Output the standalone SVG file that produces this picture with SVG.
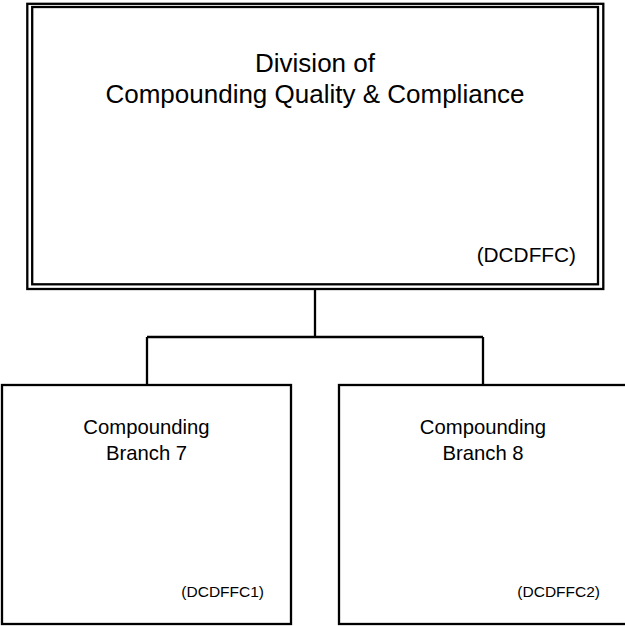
<svg xmlns="http://www.w3.org/2000/svg" width="625" height="626" viewBox="0 0 625 626">
<style>
  .box { fill: #fff; stroke: #000; stroke-width: 2.3; }
  .line { fill: none; stroke: #000; stroke-width: 2.3; }
  text { font-family: "Liberation Sans", Arial, sans-serif; fill: #000; }
  .t1 { font-size: 26px; text-anchor: middle; }
  .t2 { font-size: 20.3px; text-anchor: middle; }
  .code1 { font-size: 20.8px; text-anchor: end; }
  .code2 { font-size: 15.5px; text-anchor: end; }
</style>
<rect width="625" height="626" fill="#fff"/>
<g id="connectors">
  <path class="line" d="M315 289 V337 M147 337 H483 M147 337 V385 M483 337 V385"/>
</g>
<g id="division">
  <rect class="box" x="27.3" y="3.8" width="576" height="285.2"/>
  <rect class="line" x="32.2" y="7" width="565.8" height="277.3"/>
  <text class="t1" x="315" y="72">Division of</text>
  <text class="t1" x="315" y="103">Compounding Quality &amp; Compliance</text>
  <text class="code1" x="576" y="262">(DCDFFC)</text>
</g>
<g id="branch7">
  <rect class="box" x="2" y="385" width="289" height="239"/>
  <text class="t2" x="146.5" y="434">Compounding</text>
  <text class="t2" x="146.5" y="460">Branch 7</text>
  <text class="code2" x="264" y="597">(DCDFFC1)</text>
</g>
<g id="branch8">
  <rect class="box" x="339" y="385" width="288" height="239"/>
  <text class="t2" x="483" y="434">Compounding</text>
  <text class="t2" x="483" y="460">Branch 8</text>
  <text class="code2" x="600" y="597">(DCDFFC2)</text>
</g>
</svg>
